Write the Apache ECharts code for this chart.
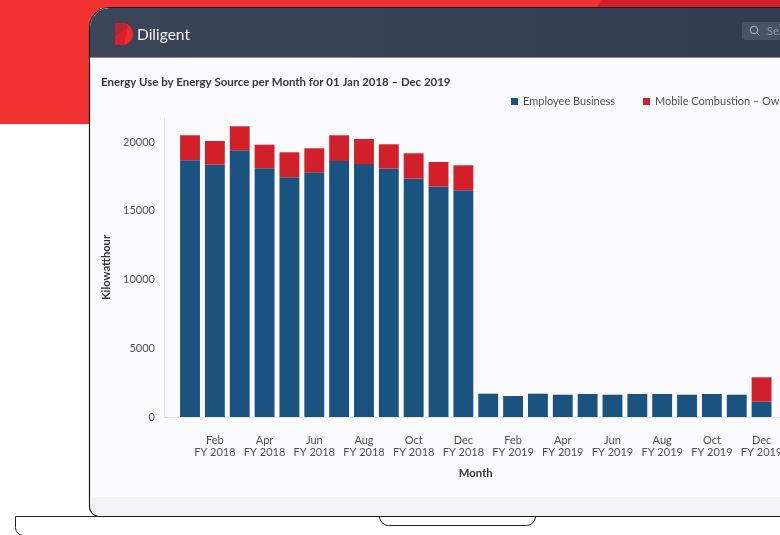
<!DOCTYPE html>
<html><head><meta charset="utf-8">
<style>html,body{margin:0;padding:0;background:#fff;overflow:hidden}#c{width:780px;height:535px}</style>
<script src="https://cdn.jsdelivr.net/npm/echarts@6/dist/echarts.min.js"></script>
</head><body><div id="c"></div>
<script>
const months = ['Jan','Feb','Mar','Apr','May','Jun','Jul','Aug','Sep','Oct','Nov','Dec'];
const years = ['FY 2018','FY 2019'];
const employeeBusiness2018 = [18669,18349,19396,18087,17433,17796,18618,18400,18058,17331,16749,16487];
const employeeBusiness2019 = [1695,1527,1695,1622,1673,1622,1673,1673,1622,1673,1622,1113];
const mobileCombustion2018 = [1818,1724,1746,1717,1818,1746,1869,1818,1775,1847,1796,1818];
const mobileCombustion2019 = [0,0,0,0,0,0,0,0,0,0,0,1774];
const titleText = 'Energy Use by Energy Source per Month for 01 Jan 2018 – Dec 2019';
const seriesNames = ['Employee Business','Mobile Combustion – Owned'];

const categories = [];
years.forEach(y => months.forEach(m => categories.push(m + '\n' + y)));
const FONT = 'Lato, "Open Sans", sans-serif';
const INK = '#4d4f57';

const frame = [
  {type:'rect',shape:{x:15.5,y:516.5,width:1000,height:19,r:[0,0,0,8]},style:{fill:'none',stroke:'#222',lineWidth:1}},
  {type:'rect',shape:{x:379.5,y:500,width:156,height:25.5,r:[0,0,9,9]},style:{fill:'none',stroke:'#222',lineWidth:1}},
  {type:'rect',shape:{x:0,y:0,width:780,height:8},style:{fill:'#f23131'}},
  {type:'polygon',shape:{points:[[597,8],[601,0],[780,0],[780,8]]},style:{fill:'#d2202a'}},
  {type:'rect',shape:{x:0,y:0,width:100,height:124},style:{fill:'#f23131'}},
  {type:'rect',shape:{x:89.5,y:7.5,width:760,height:509,r:[20,0,0,10]},style:{fill:'#fbfbfe',stroke:'#1a1a1a',lineWidth:1.2}},
  {type:'rect',shape:{x:90,y:8,width:690,height:49,r:[20,0,0,0]},style:{fill:{type:'linear',x:0,y:0,x2:1,y2:0,colorStops:[{offset:0,color:'#3b4557'},{offset:1,color:'#333d4f'}]}}},
  {type:'rect',shape:{x:90,y:57,width:690,height:1},style:{fill:'#8a8f99'}},
  {type:'rect',shape:{x:90.2,y:497,width:690,height:19,r:[0,0,0,10]},style:{fill:'#f4f4f6'}},
  {type:'rect',shape:{x:115,y:23,width:18,height:22,r:[0,11,11,0]},style:{fill:'#ef2b2d'}},
  {type:'polygon',shape:{points:[[115,23],[126,23],[128,27],[115,37]]},style:{fill:'#b9232b'}},
  {type:'polygon',shape:{points:[[115,37],[128,27],[124,45],[115,45]]},style:{fill:'#d6212a'}},
  {type:'text',style:{x:137,y:34.5,text:'Diligent',fill:'#f4f5f7',font:'400 15.5px '+FONT,verticalAlign:'middle'}},
  {type:'rect',shape:{x:742,y:22,width:60,height:18,r:3},style:{fill:'#4a5364'}},
  {type:'circle',shape:{cx:754,cy:30,r:3.8},style:{fill:'none',stroke:'#b4b9c2',lineWidth:1}},
  {type:'line',shape:{x1:757,y1:33,x2:759.5,y2:35.5},style:{stroke:'#b4b9c2',lineWidth:1}},
  {type:'text',style:{x:767,y:31,text:'Search',fill:'#9299a5',font:'11px '+FONT,verticalAlign:'middle'}},
  {type:'line',shape:{x1:164,y1:417.5,x2:780,y2:417.5},style:{stroke:'#dfe3ec',lineWidth:1}}
];

const chart = echarts.init(document.getElementById('c'),null,{renderer:'canvas'});
chart.setOption({
  animation:false,
  backgroundColor:'transparent',
  textStyle:{fontFamily:FONT},
  graphic:{elements:frame},
  title:{text:titleText,left:101,top:77,padding:0,textStyle:{fontFamily:FONT,fontSize:11.45,fontWeight:'bold',color:'#33353c'}},
  legend:{left:511,top:96,padding:0,width:600,itemWidth:7,itemHeight:7,itemGap:28,icon:'rect',
    textStyle:{fontFamily:FONT,fontSize:11,color:INK},data:seriesNames},
  grid:{left:177.6,top:118,width:596.4,height:299,containLabel:false,outerBoundsMode:'none'},
  xAxis:{type:'category',data:categories,
    name:'Month',nameLocation:'middle',nameGap:51,
    nameTextStyle:{fontFamily:FONT,fontSize:11.3,fontWeight:'bold',color:'#33353c'},
    axisLine:{show:false},axisTick:{show:false},
    axisLabel:{interval:(i)=>i%2===1,margin:17,fontFamily:FONT,fontSize:11,lineHeight:12.5,color:INK,hideOverlap:false}},
  yAxis:{type:'value',min:0,max:21745,interval:5000,offset:13.6,
    name:'Kilowatthour',nameLocation:'middle',nameGap:49,nameRotate:90,
    nameTextStyle:{fontFamily:FONT,fontSize:11.2,fontWeight:'bold',color:'#33353c'},
    axisLine:{show:true,lineStyle:{color:'#dfe3ec'}},axisTick:{show:false},splitLine:{show:false},
    axisLabel:{margin:9,fontFamily:FONT,fontSize:11,color:INK,showMaxLabel:false,formatter:(v)=>String(v)}},
  series:[
    {name:seriesNames[0],type:'bar',stack:'e',barCategoryGap:'20%',
      data:employeeBusiness2018.concat(employeeBusiness2019),
      itemStyle:{color:'#1a5280'}},
    {name:seriesNames[1],type:'bar',stack:'e',barCategoryGap:'20%',
      data:mobileCombustion2018.concat(mobileCombustion2019),
      itemStyle:{color:'#d2202b'}}
  ]
});
</script></body></html>
